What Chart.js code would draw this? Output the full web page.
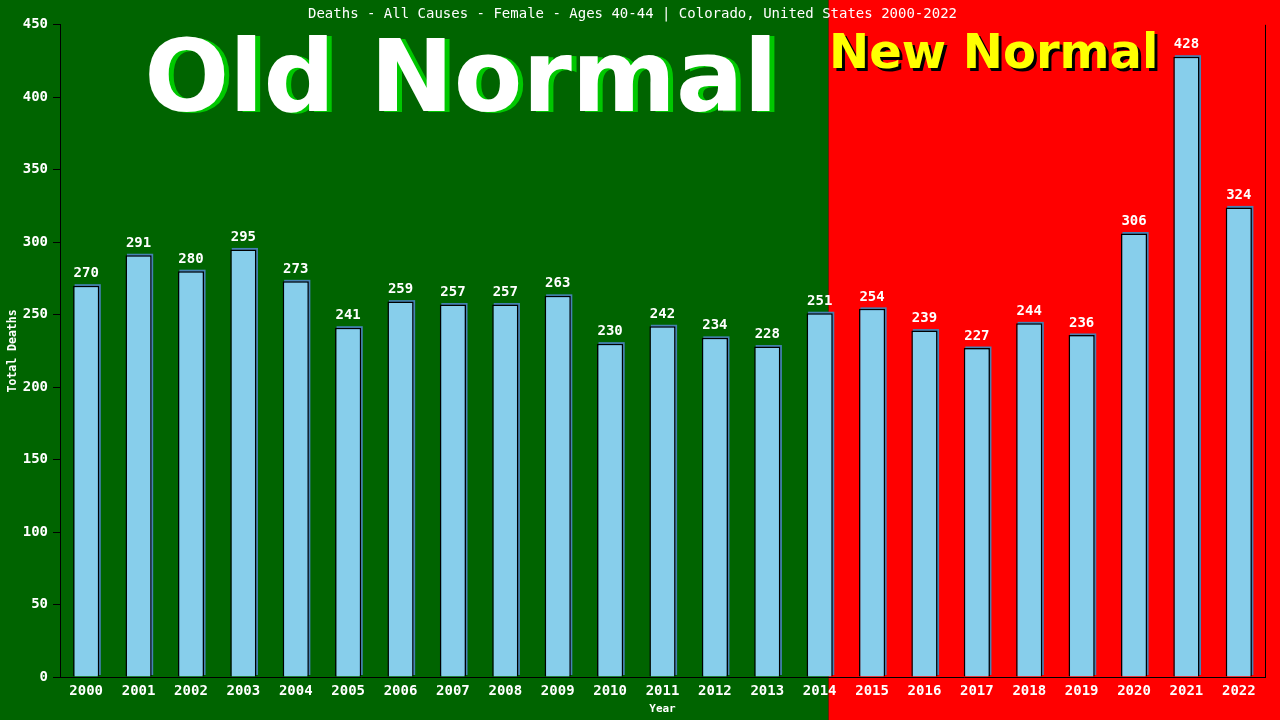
<!DOCTYPE html>
<html>
<head>
<meta charset="utf-8">
<script src="https://cdn.jsdelivr.net/npm/chart.js@4.4.0/dist/chart.umd.min.js"></script>
<style>
html,body{margin:0;padding:0;background:#000;}
#wrap{width:1280px;height:720px;}
</style>
</head>
<body>
<div id="wrap"><canvas id="c" width="1280" height="720"></canvas></div>
<script>
const years = ["2000","2001","2002","2003","2004","2005","2006","2007","2008","2009","2010","2011","2012","2013","2014","2015","2016","2017","2018","2019","2020","2021","2022"];
const deaths = [270,291,280,295,273,241,259,257,257,263,230,242,234,228,251,254,239,227,244,236,306,428,324];
const yTicks = [0,50,100,150,200,250,300,350,400,450];
const chartTitle = "Deaths - All Causes - Female - Ages 40-44 | Colorado, United States 2000-2022";
const oldLabel = "Old Normal";
const newLabel = "New Normal";

const MONO = "'DejaVu Sans Mono', 'Liberation Mono', monospace";
const SANS = "'DejaVu Sans', Verdana, sans-serif";

const bgPlugin = {
  id: 'bg',
  beforeDraw(chart) {
    const ctx = chart.ctx;
    const x = chart.scales.x;
    const split = x.getPixelForValue(14) + (x.getPixelForValue(15) - x.getPixelForValue(14)) * 0.17;
    ctx.save();
    ctx.fillStyle = '#006400';
    ctx.fillRect(0, 0, split, chart.height);
    ctx.fillStyle = '#ff0000';
    ctx.fillRect(split, 0, chart.width - split, chart.height);
    ctx.restore();
  },
  beforeDatasetsDraw(chart) {
    const ctx = chart.ctx;
    ctx.save();
    ctx.textBaseline = 'alphabetic';
    ctx.textAlign = 'center';
    ctx.font = "bold 100px " + SANS;
    ctx.fillStyle = '#00c800';
    ctx.fillText(oldLabel, 466, 112);
    ctx.fillStyle = '#ffffff';
    ctx.fillText(oldLabel, 461, 111);
    ctx.textAlign = 'left';
    ctx.font = "bold 48px " + SANS;
    ctx.fillStyle = '#000000';
    ctx.fillText(newLabel, 832, 71);
    ctx.fillStyle = '#ffff00';
    ctx.fillText(newLabel, 829, 68);
    // bar shadows (steel blue, offset up-right), from the bar elements
    const meta = chart.getDatasetMeta(0);
    ctx.fillStyle = '#4682b4';
    meta.data.forEach(bar => {
      const p = bar.getProps(['x', 'y', 'width', 'base'], true);
      const left = p.x - p.width / 2;
      ctx.fillRect(left + 1.5, p.y - 1.5, p.width, p.base - p.y);
    });
    ctx.restore();
  }
};

const labelPlugin = {
  id: 'valueLabels',
  afterDatasetsDraw(chart) {
    const ctx = chart.ctx;
    const meta = chart.getDatasetMeta(0);
    ctx.save();
    ctx.font = "bold 14px " + MONO;
    ctx.fillStyle = '#ffffff';
    ctx.textAlign = 'center';
    ctx.textBaseline = 'bottom';
    meta.data.forEach((bar, i) => {
      ctx.fillText(String(deaths[i]), bar.x, bar.y - 5);
    });
    const a = chart.chartArea;
    ctx.strokeStyle = '#000';
    ctx.lineWidth = 1;
    ctx.beginPath();
    ctx.moveTo(Math.round(a.right) + 0.5, a.top);
    ctx.lineTo(Math.round(a.right) + 0.5, a.bottom);
    ctx.stroke();
    ctx.restore();
  }
};

new Chart(document.getElementById('c'), {
  type: 'bar',
  data: {
    labels: years,
    datasets: [{
      data: deaths,
      backgroundColor: '#87ceeb',
      borderColor: '#000000',
      borderWidth: 1.5,
      barPercentage: 0.5,
      categoryPercentage: 1.0
    }]
  },
  options: {
    responsive: false,
    animation: false,
    devicePixelRatio: 1,
    layout: { padding: { top: 0, right: 15, left: 0, bottom: 0 } },
    plugins: {
      legend: { display: false },
      tooltip: { enabled: false },
      title: {
        display: true,
        text: chartTitle,
        color: '#ffffff',
        font: { family: MONO, size: 14, weight: 'normal', lineHeight: 1.2 },
        padding: { top: 6, bottom: 2 }
      }
    },
    scales: {
      x: {
        grid: { display: false, drawTicks: false },
        border: { display: true, color: '#000000', width: 1 },
        ticks: { color: '#ffffff', font: { family: MONO, size: 14, weight: 'bold' }, padding: 6, maxRotation: 0, autoSkip: false },
        title: { display: true, text: 'Year', color: '#ffffff', font: { family: MONO, size: 11, weight: 'bold' }, padding: { top: 0, bottom: 4 } },
        afterFit(s) { s.height = 43; }
      },
      y: {
        min: 0, max: 450,
        afterBuildTicks(s) { s.ticks = yTicks.map(v => ({ value: v })); },
        grid: { display: true, drawOnChartArea: false, drawTicks: true, tickLength: 7, color: '#000000' },
        border: { display: true, color: '#000000', width: 1 },
        ticks: { color: '#ffffff', font: { family: MONO, size: 14, weight: 'bold' }, padding: 5 },
        title: { display: true, text: 'Total Deaths', color: '#ffffff', font: { family: MONO, size: 11.5, weight: 'bold' }, padding: { top: 6, bottom: 0 } },
        afterFit(s) { s.width = 60; }
      }
    }
  },
  plugins: [bgPlugin, labelPlugin]
});
</script>
</body>
</html>
